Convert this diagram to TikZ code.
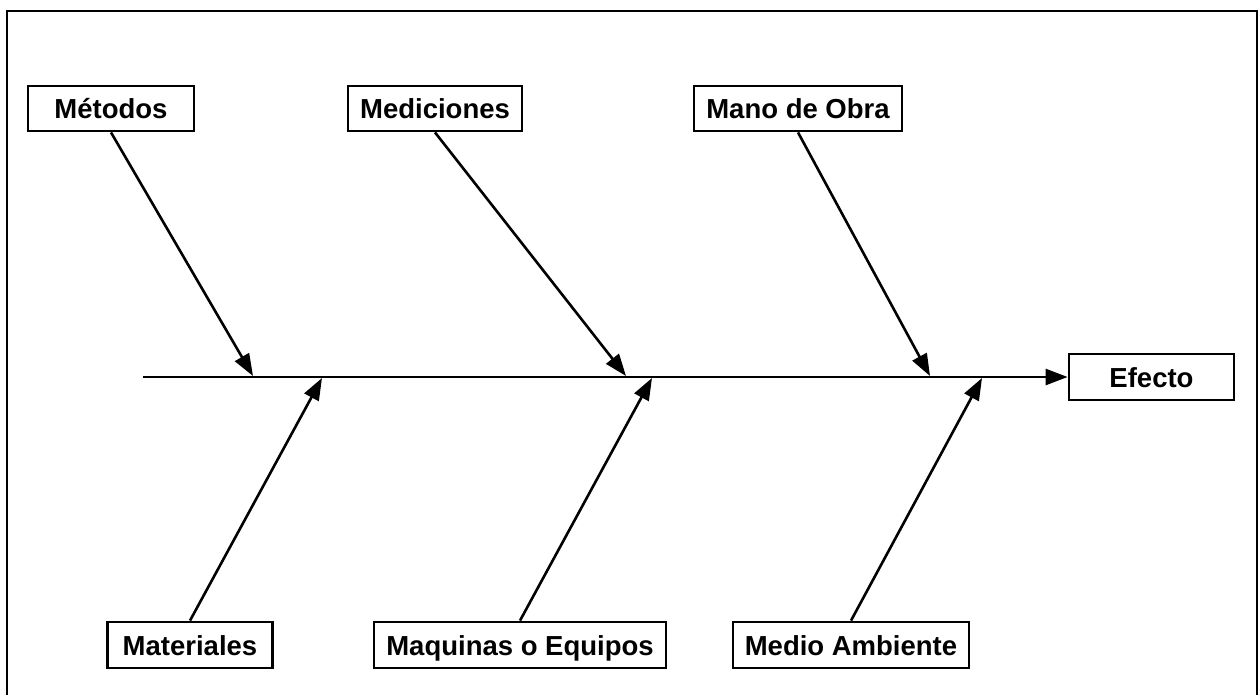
\documentclass[tikz,border=0pt]{standalone}
\usepackage{fontspec}
\setmainfont{Liberation Sans}
\usetikzlibrary{arrows.meta}
\begin{document}
\begin{tikzpicture}[x=1pt,y=-1pt,
  cat/.style={draw,line width=2.8pt,inner sep=0pt,text height=20pt,text depth=0pt,font=\fontsize{27.5}{31}\selectfont\bfseries},
  bone/.style={line width=2.6pt,-{Triangle[length=22pt,width=16pt]}}]
\useasboundingbox (0,0) rectangle (1258,694);
\fill[white] (0,0) rectangle (1258,694);
% frame
\draw[line width=2.6pt] (7,700) -- (7,11) -- (1257,11) -- (1257,700);
% category boxes
\node[cat,minimum width=166pt,minimum height=45pt] (metodos) at (111,108.5) {Métodos};
\node[cat,minimum width=174pt,minimum height=45pt] (mediciones) at (435,108.5) {Mediciones};
\node[cat,minimum width=208pt,minimum height=45pt] (mano) at (798,108.5) {Mano de Obra};
\node[cat,minimum width=165pt,minimum height=46pt] (materiales) at (190,645) {Materiales};
\node[cat,minimum width=292pt,minimum height=46pt] (maquinas) at (520,645) {Maquinas o Equipos};
\node[cat,minimum width=236pt,minimum height=46pt] (medio) at (851,645) {Medio Ambiente};
\node[cat,minimum width=165pt,minimum height=46pt] (efecto) at (1151.5,377) {Efecto};
% spine
\coordinate (s0) at (143,377);
\draw[bone] (s0) -- (efecto.west);
% junctions on spine
\coordinate (j1) at (253,376);
\coordinate (j2) at (626,376);
\coordinate (j3) at (930,376);
\coordinate (j4) at (322,378);
\coordinate (j5) at (652,378);
\coordinate (j6) at (982,378);
% bones
\draw[bone] (metodos.south) -- (j1);
\draw[bone] (mediciones.south) -- (j2);
\draw[bone] (mano.south) -- (j3);
\draw[bone] (materiales.north) -- (j4);
\draw[bone] (maquinas.north) -- (j5);
\draw[bone] (medio.north) -- (j6);
\end{tikzpicture}
\end{document}
